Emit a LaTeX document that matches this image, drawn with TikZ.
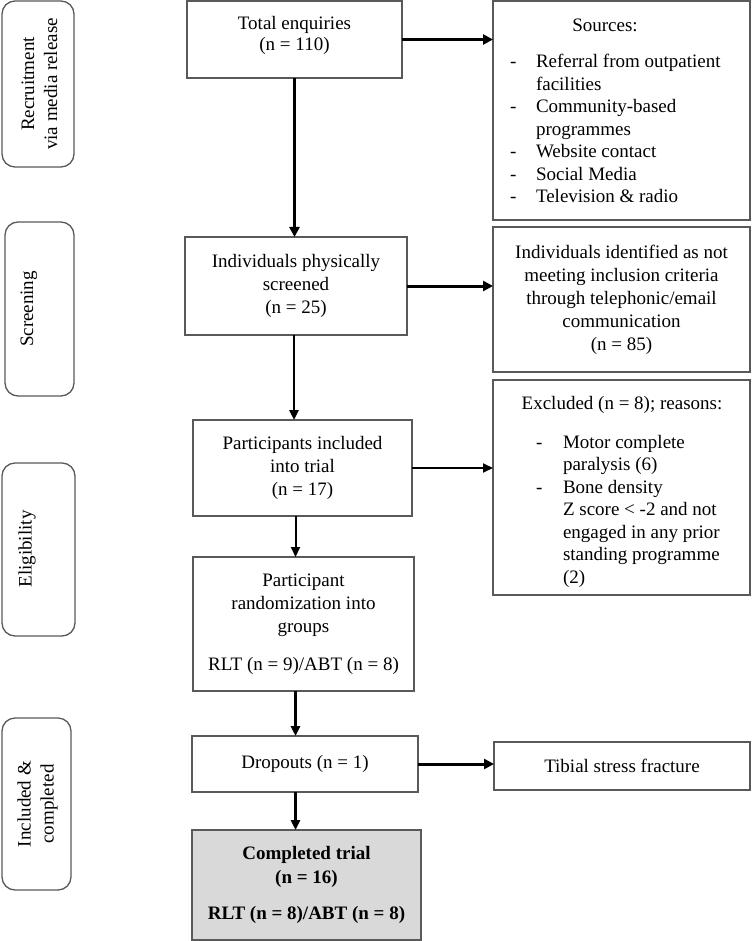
\documentclass[tikz,border=0pt]{standalone}
\usepackage{fontspec}
\setmainfont{Liberation Serif}
\usetikzlibrary{arrows.meta}
\definecolor{boxgray}{HTML}{D9D9D9}
\definecolor{edge}{HTML}{595959}
\begin{document}
\begin{tikzpicture}[x=1pt,y=-1pt,
  every node/.style={inner sep=0pt, outer sep=0pt},
  fs/.style={font=\fontsize{19}{23}\selectfont},
  fl/.style={font=\fontsize{19}{22.5}\selectfont},
  box/.style={draw=edge, line width=1.3pt, fill=white},
  phase/.style={draw=edge, line width=1.3pt, rounded corners=13pt},
  txt/.style={fs, align=center, text=black},
  arr/.style={line width=3pt, -{Triangle[length=10pt,width=10pt]}},
  arrv/.style={line width=2.5pt, -{Triangle[length=10pt,width=9pt]}},
  arrthin/.style={line width=2pt, -{Triangle[length=10pt,width=9pt]}},
]
\useasboundingbox (0,0) rectangle (752,941);

% phase labels
\node[phase, minimum width=72pt, minimum height=166pt] (rec) at (38,84) {};
\node[txt, rotate=90] (recT) at (39.5,84) {Recruitment\\via media release};
\node[phase, minimum width=69pt, minimum height=174pt] (scr) at (39.5,309) {};
\node[txt, rotate=90] (scrT) at (29,309) {Screening};
\node[phase, minimum width=73pt, minimum height=173pt] (eli) at (38.5,549.5) {};
\node[txt, rotate=90] (eliT) at (27,549) {Eligibility};
\node[phase, minimum width=69pt, minimum height=172pt] (inc) at (36.5,804) {};
\node[txt, rotate=90] (incT) at (37.5,804) {Included \&\\completed};

% main column
\node[box, minimum width=215pt, minimum height=77pt] (total) at (294.5,39.5) {};
\node[txt, font=\fontsize{19}{21}\selectfont] (totalT) at (294.5,35) {Total enquiries\\(n = 110)};
\node[box, txt, minimum width=222pt, minimum height=98pt] (indiv) at (296,286) {Individuals physically\\screened\\(n = 25)};
\node[box, txt, minimum width=219pt, minimum height=96pt] (partic) at (302.5,468) {Participants included\\into trial\\(n = 17)};
\node[box, txt, minimum width=221pt, minimum height=134pt] (rand) at (303.5,624) {Participant\\randomization into\\groups\\[15pt]RLT (n = 9)/ABT (n = 8)};
\node[box, txt, minimum width=226pt, minimum height=56pt] (drop) at (305,764) {Dropouts (n = 1)};
\node[box, txt, fill=boxgray, minimum width=229pt, minimum height=110pt, font=\fontsize{19}{24}\selectfont\bfseries] (comp) at (306.5,885) {Completed trial\\(n = 16)\\[12pt]RLT (n = 8)/ABT (n = 8)};

% right column
\node[box, minimum width=257pt, minimum height=219pt] (sources) at (621.5,110.5) {};
\node[txt] (srcH) at (605,25) {Sources:};
\node[fl, anchor=base west] (srcL) at (510,68) {\begin{tabular}[t]{@{}l@{}l@{}}
\makebox[26pt][l]{-}&Referral from outpatient\\
&facilities\\
-&Community-based\\
&programmes\\
-&Website contact\\
-&Social Media\\
-&Television \& radio
\end{tabular}};
\node[box, txt, minimum width=257pt, minimum height=145pt] (notmeet) at (621.5,299.5) {Individuals identified as not\\meeting inclusion criteria\\through telephonic/email\\communication\\(n = 85)};
\node[box, minimum width=257pt, minimum height=215pt] (excl) at (621.5,487.5) {};
\node[txt] (exclH) at (622,405) {Excluded (n = 8); reasons:};
\node[fl, anchor=base west] (exclL) at (536,448) {\begin{tabular}[t]{@{}l@{}l@{}}
\makebox[27pt][l]{-}&Motor complete\\
&paralysis (6)\\
-&Bone density\\
&Z score < -2 and not\\
&engaged in any prior\\
&standing programme\\
&(2)
\end{tabular}};
\node[box, txt, minimum width=256pt, minimum height=48pt] (tibial) at (622,766) {Tibial stress fracture};

% connectors
\draw[arr] (total.east) -- (total.east -| sources.west);
\draw[arr] (total.south) -- (total.south |- indiv.north);
\draw[arr] (indiv.east) -- (indiv.east -| notmeet.west);
\draw[arrv] ([xshift=-2pt]indiv.south) -- ([xshift=-2pt]indiv.south |- partic.north);
\draw[arrthin] (partic.east) -- (partic.east -| excl.west);
\draw[arrthin] ([xshift=-7pt]partic.south) -- ([xshift=-7pt]partic.south |- rand.north);
\draw[arrv] ([xshift=-8pt]rand.south) -- ([xshift=-8pt]rand.south |- drop.north);
\draw[arr] (drop.east) -- (drop.east -| tibial.west);
\draw[arrv] ([xshift=-9.5pt]drop.south) -- ([xshift=-9.5pt]drop.south |- comp.north);
\end{tikzpicture}
\end{document}
